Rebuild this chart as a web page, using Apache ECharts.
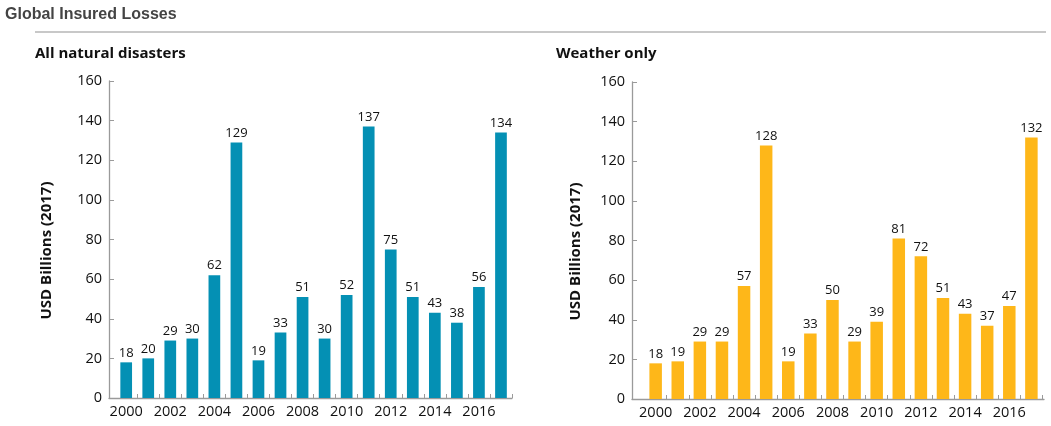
<!DOCTYPE html>
<html>
<head>
<meta charset="utf-8">
<script src="https://cdn.jsdelivr.net/npm/echarts@6/dist/echarts.min.js"></script>
<style>html,body{margin:0;padding:0;background:#fff;}#c{width:1051px;height:426px;}</style>
</head>
<body>
<div id="c"></div>
<script>
const years = [2000,2001,2002,2003,2004,2005,2006,2007,2008,2009,2010,2011,2012,2013,2014,2015,2016,2017];
const allDisasters = [18,20,29,30,62,129,19,33,51,30,52,137,75,51,43,38,56,134];
const weatherOnly = [18,19,29,29,57,128,19,33,50,29,39,81,72,51,43,37,47,132];
const yearLabels = [2000,2002,2004,2006,2008,2010,2012,2014,2016];
const yTicks = [0,20,40,60,80,100,120,140,160];

const FONT = '"Open Sans", sans-serif';
const tickMarks = years.map(y => y + 0.5);

function xAxis(gridIndex, min, max) {
  return {
    type: 'value', gridIndex, min, max,
    splitLine: {show: false},
    axisLine: {show: true, lineStyle: {color: '#9a9a9a', width: 1.3}},
    axisTick: {show: true, inside: true, length: 4, customValues: tickMarks, lineStyle: {color: '#9a9a9a'}},
    axisLabel: {customValues: yearLabels, margin: 6, fontFamily: FONT, fontSize: 14.5, color: '#111', formatter: v => String(v)}
  };
}
function yAxis(gridIndex, nameGap) {
  return {
    type: 'value', gridIndex, min: 0, max: 160, interval: 20,
    name: 'USD Billions (2017)', nameLocation: 'middle', nameGap, nameRotate: 90,
    nameTextStyle: {fontFamily: FONT, fontWeight: 'bold', fontSize: 15, color: '#111', padding: [0, 22, 0, 0]},
    splitLine: {show: false},
    axisLine: {show: true, lineStyle: {color: '#9a9a9a', width: 1.3}},
    axisTick: {show: true, inside: true, length: 5, lineStyle: {color: '#9a9a9a'}},
    axisLabel: {margin: 7, fontFamily: FONT, fontSize: 14.5, color: '#111', customValues: yTicks}
  };
}
function barSeries(idx, values, color, width) {
  return {
    type: 'bar', xAxisIndex: idx, yAxisIndex: idx,
    data: years.map((y, i) => [y, values[i]]),
    barWidth: width,
    itemStyle: {color},
    label: {show: true, position: 'top', distance: 3, fontFamily: FONT, fontSize: 13, color: '#111',
            formatter: p => String(p.value[1])}
  };
}

const chart = echarts.init(document.getElementById('c'), null, {renderer: 'canvas'});
chart.setOption({
  animation: false,
  title: [
    {text: 'Global Insured Losses', left: 0, top: 2, textStyle: {fontFamily: 'Liberation Sans, Arial, sans-serif', fontWeight: 'bold', fontSize: 16, color: '#444'}},
    {text: 'All natural disasters', left: 30, top: 41, textStyle: {fontFamily: FONT, fontWeight: 'bold', fontSize: 15, color: '#111'}},
    {text: 'Weather only', left: 551, top: 41, textStyle: {fontFamily: FONT, fontWeight: 'bold', fontSize: 15, color: '#111'}}
  ],
  graphic: [{type: 'line', shape: {x1: 35, y1: 32, x2: 1046, y2: 32}, style: {stroke: '#c8c8c8', lineWidth: 2}}],
  grid: [
    {left: 109, top: 81, width: 403, height: 317},
    {left: 632, top: 82, width: 412, height: 317}
  ],
  xAxis: [xAxis(0, 1999.22, 2017.5), xAxis(1, 1998.93, 2017.57)],
  yAxis: [yAxis(0, 55), yAxis(1, 49)],
  series: [
    barSeries(0, allDisasters, '#0490b4', 11.7),
    barSeries(1, weatherOnly, '#feb719', 12.5)
  ]
});
</script>
</body>
</html>
